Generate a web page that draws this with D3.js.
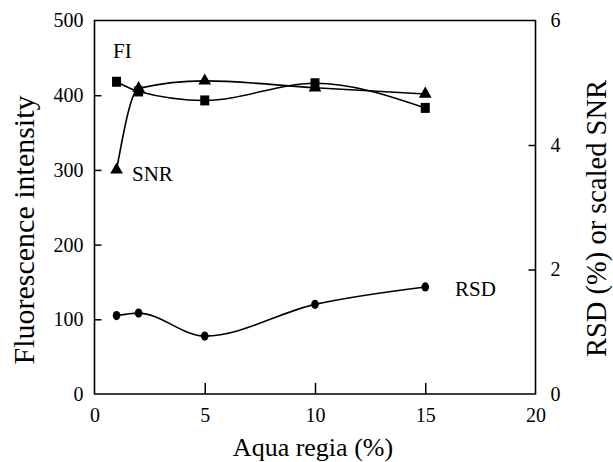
<!DOCTYPE html>
<html><head><meta charset="utf-8">
<script src="https://cdn.jsdelivr.net/npm/d3@7"></script>
<style>body{margin:0;background:#fff}svg{display:block}</style>
</head><body><svg id="c" width="613" height="462"></svg>
<script>
const aquaRegia = [1, 2, 5, 10, 15];
const fiValues = [418, 405, 393, 416, 383];
const snrScaled = [3.6, 4.91, 5.03, 4.92, 4.82];
const rsdValues = [1.26, 1.3, 0.93, 1.44, 1.72];
const xTicks = [0, 5, 10, 15, 20];
const leftTicks = [0, 100, 200, 300, 400, 500];
const rightTicks = [0, 2, 4, 6];

const FONT = "Liberation Serif";
const svg = d3.select("#c");
const L = 94.5, R = 535.5, T = 20.5, B = 394;
const x = d3.scaleLinear().domain([0, 20]).range([L, R]);
const yL = d3.scaleLinear().domain([0, 500]).range([B, T]);
const yR = d3.scaleLinear().domain([0, 6]).range([B, T]);

svg.append("path").attr("d", `M${L},${T}H${R}V${B}H${L}Z`).attr("fill", "none").attr("stroke", "#000").attr("stroke-width", 1.6);

function drawAxis(axis, tr, ticks) {
  const g = svg.append("g").attr("transform", tr).call(axis);
  g.attr("font-family", FONT).attr("font-size", 20);
  g.select(".domain").remove();
  g.selectAll(".tick line").attr("stroke", "#000").attr("stroke-width", 1.5);
  g.selectAll(".tick text").attr("font-family", FONT).attr("font-size", 20).attr("fill", "#000");
  g.selectAll(".tick line").filter(d => d === ticks[0] || d === ticks[ticks.length - 1]).remove();
  return g;
}
drawAxis(d3.axisBottom(x).tickValues(xTicks).tickSize(-11).tickPadding(14).tickFormat(d3.format("d")), `translate(0,${B})`, xTicks);
drawAxis(d3.axisLeft(yL).tickValues(leftTicks).tickSize(-7).tickPadding(11).tickFormat(d3.format("d")), `translate(${L},0)`, leftTicks);
drawAxis(d3.axisRight(yR).tickValues(rightTicks).tickSize(-7).tickPadding(15).tickFormat(d3.format("d")), `translate(${R},0)`, rightTicks);

const lineG = svg.append("g").attr("fill", "none").attr("stroke", "#000").attr("stroke-width", 1.6);
const mk = (ys, sc) => d3.line().x((d, i) => x(aquaRegia[i])).y(d => sc(d)).curve(d3.curveMonotoneX)(ys);
lineG.append("path").attr("d", mk(fiValues, yL));
lineG.append("path").attr("d", mk(snrScaled, yR));
lineG.append("path").attr("d", mk(rsdValues, yR));

svg.append("g").selectAll("rect").data(fiValues).join("rect")
  .attr("x", (d, i) => x(aquaRegia[i]) - 4.5).attr("y", d => yL(d) - 5).attr("width", 9).attr("height", 10).attr("fill", "#000");
const tri = d3.symbol().type(d3.symbolTriangle).size(70);
svg.append("g").selectAll("path").data(snrScaled).join("path")
  .attr("d", tri).attr("transform", (d, i) => `translate(${x(aquaRegia[i])},${yR(d)})`).attr("fill", "#000");
svg.append("g").selectAll("ellipse").data(rsdValues).join("ellipse")
  .attr("cx", (d, i) => x(aquaRegia[i])).attr("cy", d => yR(d)).attr("rx", 3.8).attr("ry", 4.6).attr("fill", "#000");

const txt = (s, size) => svg.append("text").attr("font-family", FONT).attr("font-size", size).attr("fill", "#000").text(s);
txt("FI", 21).attr("x", 113).attr("y", 58);
txt("SNR", 21).attr("x", 132).attr("y", 181);
txt("RSD", 21).attr("x", 455).attr("y", 296);
txt("Aqua regia (%)", 26).attr("x", 313).attr("y", 456).attr("text-anchor", "middle");
txt("Fluorescence intensity", 30).attr("transform", "translate(34,230) rotate(-90)").attr("text-anchor", "middle");
txt("RSD (%) or scaled SNR", 28.5).attr("transform", "translate(606,218.5) rotate(-90)").attr("text-anchor", "middle");
</script></body></html>
